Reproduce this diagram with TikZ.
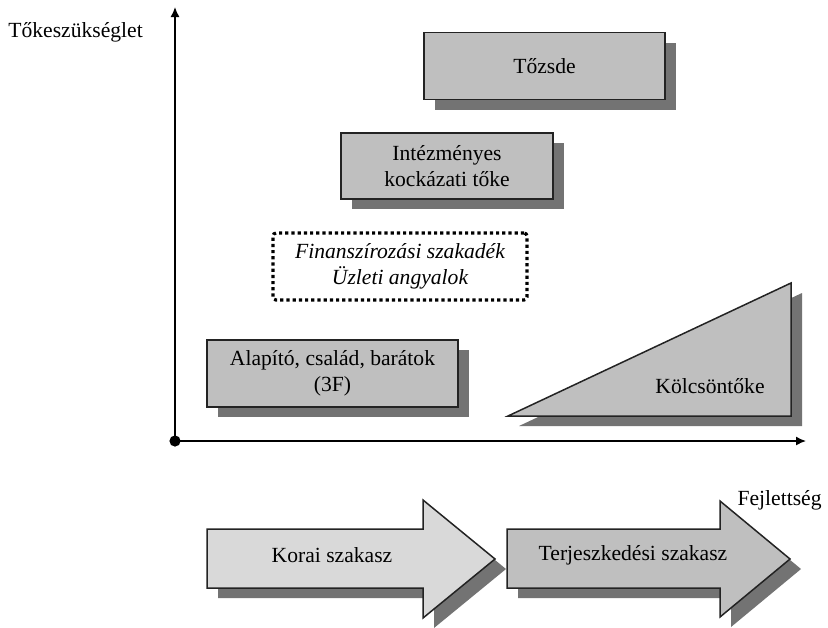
\documentclass[tikz,border=0pt]{standalone}
\usepackage{fontspec}
\setmainfont{Liberation Serif}
\usepackage{xcolor}
\usetikzlibrary{arrows.meta, shadows}

\definecolor{boxgray}{RGB}{191,191,191}
\definecolor{palegray}{RGB}{217,217,217}
\definecolor{shadegray}{RGB}{115,115,115}
\definecolor{edgegray}{RGB}{35,35,35}

\begin{document}
\begin{tikzpicture}[x=0.5pt, y=-0.5pt, font=\fontsize{10.8}{13}\selectfont]

        % 1. Canvas and the two axes
        \useasboundingbox (0,0) rectangle (828,627);

        \coordinate (O) at (175,441);     % Origin
        \coordinate (Ytop) at (175,7);    % Top of the vertical axis
        \coordinate (Xend) at (806,441);  % End of the horizontal axis

        \tikzset{axis/.style={line width=0.75pt, black, -{Latex[length=5pt,width=4.5pt]}}}
        \draw[axis] (O) -- (Ytop);
        \draw[axis] (O) -- (Xend);
        \fill[black] (O) circle (2.8pt);

        \node[inner sep=0, anchor=west] (ylabel) at (8,32) {Tőkeszükséglet};
        \node[inner sep=0, anchor=east] (xlabel) at (822,500) {Fejlettség};

        % 2. Sources of capital (grey boxes with shadow)
        \tikzset{
          shaded/.style={draw=edgegray, line width=0.75pt, fill=boxgray,
            drop shadow={shadow xshift=5.5pt, shadow yshift=-5pt, fill=shadegray, opacity=1}},
          sourcebox/.style={shaded, align=center, inner sep=0pt}
        }

        \node[sourcebox, minimum width=120.5pt, minimum height=33.5pt] (tozsde) at (544.5,66) {Tőzsde};
        \node[sourcebox, minimum width=106pt, minimum height=33pt] (kockazati) at (447,166) {Intézményes\\ kockázati tőke};
        \node[sourcebox, minimum width=125.5pt, minimum height=33.5pt] (alapito) at (332.5,373.5) {Alapító, család, barátok\\ (3F)};

        % Financing gap (dotted frame, no shadow)
        \node[draw=black, line width=1.6pt, dash pattern=on 1.6pt off 1.5pt, rounded corners=1.5pt,
              minimum width=127pt, minimum height=33.5pt, inner sep=0pt, align=center,
              font=\fontsize{10.8}{13}\selectfont\itshape] (gap) at (400,266.5)
              {Finanszírozási szakadék\\ Üzleti angyalok};

        % 3. Loan capital (triangle)
        \coordinate (TriA) at (508,416);
        \coordinate (TriB) at (791,283);
        \coordinate (TriC) at (791,416);
        \path[shaded] (TriA) -- (TriB) -- (TriC) -- cycle;
        \node (kolcson) at (710,386) {Kölcsöntőke};

        % 4. Stages (block arrows below the chart)
        \path[shaded, fill=palegray] (207,529) -- (423,529) -- (423,500) -- (495,559)
              -- (423,618) -- (423,588) -- (207,588) -- cycle;
        \node (korai) at (332,555) {Korai szakasz};

        \path[shaded] (507,529) -- (720,529) -- (720,501) -- (790,559)
              -- (720,617) -- (720,588) -- (507,588) -- cycle;
        \node (terjeszkedesi) at (633,555) {Terjeszkedési szakasz};

    \end{tikzpicture}
\end{document}
